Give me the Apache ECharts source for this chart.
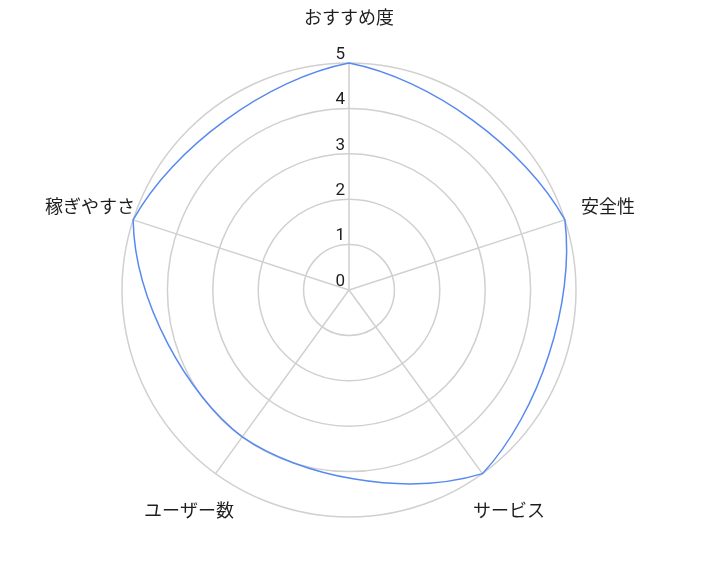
<!DOCTYPE html>
<html>
<head>
<meta charset="utf-8">
<style>
html,body{margin:0;padding:0;background:#fff;}
#chart{width:702px;height:578px;}
</style>
<script src="https://cdn.jsdelivr.net/npm/echarts@6/dist/echarts.min.js"></script>
</head>
<body>
<div id="chart"></div>
<script>
var indicatorNames = ['おすすめ度', '安全性', 'サービス', 'ユーザー数', '稼ぎやすさ'];
var scores = [5, 5, 5, 4, 5];
var tickValues = [0, 1, 2, 3, 4, 5];

var gridColor = '#d0d0d0';
var lineColor = '#5889f0';
var nameRadius = 6;   // 名称放在半径6的位置（居中）
var handleRate = 0.63; // 曲线控制点：沿极坐标切线
var chordRate = 0.1;   // 曲线控制点：沿弦方向

// 两点之间按极坐标方向弯曲的三次贝塞尔
function curveSeg(c, a, b) {
    var ra = Math.hypot(a[0] - c[0], a[1] - c[1]);
    var rb = Math.hypot(b[0] - c[0], b[1] - c[1]);
    var fa = Math.atan2(a[1] - c[1], a[0] - c[0]);
    var fb = Math.atan2(b[1] - c[1], b[0] - c[0]);
    var df = fb - fa;
    while (df > Math.PI) df -= 2 * Math.PI;
    while (df <= -Math.PI) df += 2 * Math.PI;
    var rp = (rb - ra) / df;
    var ta = [rp * Math.cos(fa) - ra * Math.sin(fa), rp * Math.sin(fa) + ra * Math.cos(fa)];
    var tb = [rp * Math.cos(fb) - rb * Math.sin(fb), rp * Math.sin(fb) + rb * Math.cos(fb)];
    var k = handleRate * df / 3;
    var cx = b[0] - a[0], cy = b[1] - a[1];
    var c1 = [a[0] + k * ta[0] + chordRate * cx, a[1] + k * ta[1] + chordRate * cy];
    var c2 = [b[0] - k * tb[0] - chordRate * cx, b[1] - k * tb[1] - chordRate * cy];
    return ' C' + c1[0] + ',' + c1[1] + ' ' + c2[0] + ',' + c2[1] + ' ' + b[0] + ',' + b[1];
}

function renderItem(params, api) {
    var i = params.dataIndex;
    var namePos = api.coord([nameRadius, i]);
    var children = [{
        type: 'text',
        x: namePos[0],
        y: namePos[1],
        style: {
            text: indicatorNames[i],
            align: 'center',
            verticalAlign: 'middle',
            fill: '#1e1e1e',
            font: '18px "Noto Sans CJK JP"'
        }
    }];
    if (i === 0) {
        var c = api.coord([0, 0]);
        var pts = [];
        for (var j = 0; j < scores.length; j++) {
            pts.push(api.coord([scores[j], j]));
        }
        var d = 'M' + pts[0][0] + ',' + pts[0][1];
        for (var j = 0; j < pts.length; j++) {
            d += curveSeg(c, pts[j], pts[(j + 1) % pts.length]);
        }
        d += ' Z';
        children.push({
            type: 'path',
            shape: { pathData: d },
            style: { fill: 'none', stroke: lineColor, lineWidth: 1.5 }
        });
    }
    return { type: 'group', children: children };
}

var myChart = echarts.init(document.getElementById('chart'));
var option = {
    animation: false,
    polar: {
        center: [349, 290],
        radius: 227
    },
    // 角度轴用数值轴：0~5 正好一整圈，5 与 0 重合
    angleAxis: {
        type: 'value',
        min: 0,
        max: indicatorNames.length,
        interval: 1,
        startAngle: 90,
        clockwise: true,
        axisLine: { show: false },
        axisTick: { show: false },
        axisLabel: { show: false },
        splitLine: { show: true, lineStyle: { color: gridColor, width: 1.5 } }
    },
    radiusAxis: {
        type: 'value',
        min: 0,
        max: 5,
        interval: 1,
        axisLine: { show: false },
        axisTick: { show: false },
        splitLine: { show: true, lineStyle: { color: gridColor, width: 1.5 } },
        axisLabel: {
            show: true,
            color: '#1e1e1e',
            fontSize: 17,
            fontFamily: 'Roboto',
            align: 'right',
            verticalAlign: 'bottom',
            margin: 4,
            formatter: function (v) {
                return tickValues.indexOf(v) >= 0 ? String(v) : '';
            }
        }
    },
    series: [{
        type: 'custom',
        coordinateSystem: 'polar',
        renderItem: renderItem,
        data: scores.map(function (v, i) { return [v, i]; }),
        z: 5
    }]
};
myChart.setOption(option);
</script>
</body>
</html>
